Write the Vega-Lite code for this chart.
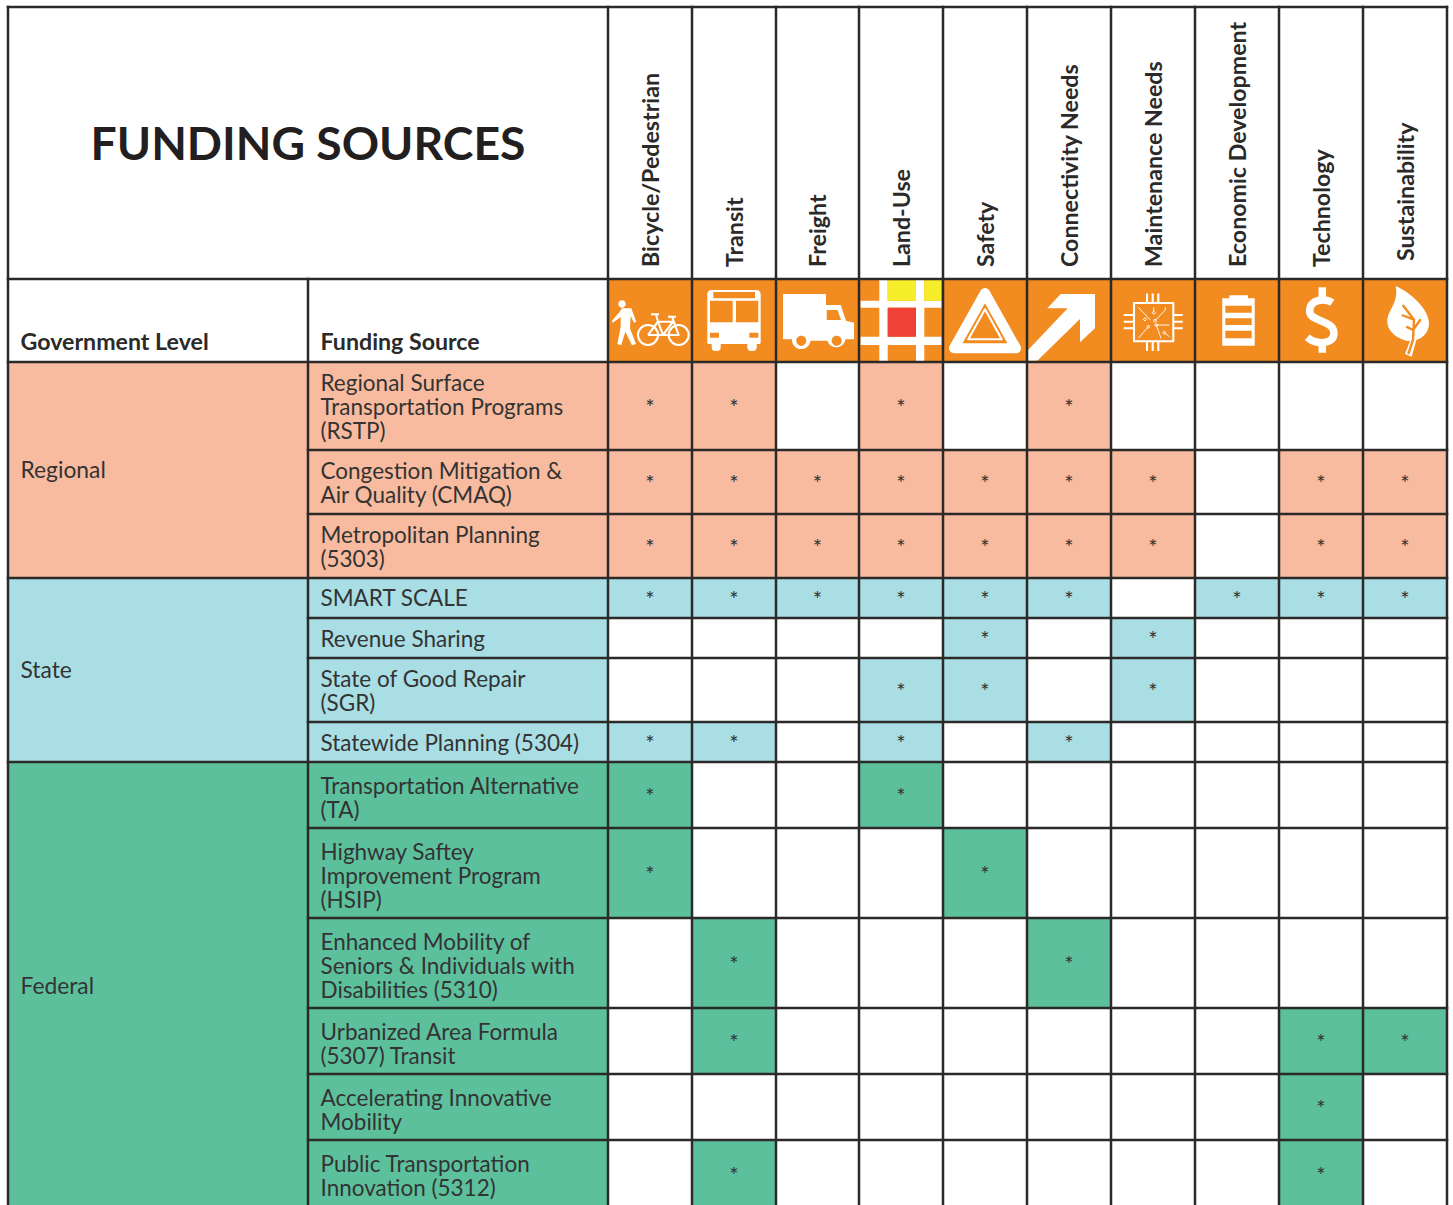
{
"$schema":"https://vega.github.io/schema/vega-lite/v6.json",
"width":1453,"height":1205,"padding":0,"autosize":{"type":"none"},"background":"white",
"config":{"view":{"stroke":null},"text":{"font":"Lato"}},
"datasets":{
"funded":[
{"source":"RSTP","level":"Regional","row":2,"rowEnd":3,"rowMid":2.5,"col":2,"colEnd":3,"colMid":2.5},
{"source":"RSTP","level":"Regional","row":2,"rowEnd":3,"rowMid":2.5,"col":3,"colEnd":4,"colMid":3.5},
{"source":"RSTP","level":"Regional","row":2,"rowEnd":3,"rowMid":2.5,"col":5,"colEnd":6,"colMid":5.5},
{"source":"RSTP","level":"Regional","row":2,"rowEnd":3,"rowMid":2.5,"col":7,"colEnd":8,"colMid":7.5},
{"source":"CMAQ","level":"Regional","row":3,"rowEnd":4,"rowMid":3.5,"col":2,"colEnd":3,"colMid":2.5},
{"source":"CMAQ","level":"Regional","row":3,"rowEnd":4,"rowMid":3.5,"col":3,"colEnd":4,"colMid":3.5},
{"source":"CMAQ","level":"Regional","row":3,"rowEnd":4,"rowMid":3.5,"col":4,"colEnd":5,"colMid":4.5},
{"source":"CMAQ","level":"Regional","row":3,"rowEnd":4,"rowMid":3.5,"col":5,"colEnd":6,"colMid":5.5},
{"source":"CMAQ","level":"Regional","row":3,"rowEnd":4,"rowMid":3.5,"col":6,"colEnd":7,"colMid":6.5},
{"source":"CMAQ","level":"Regional","row":3,"rowEnd":4,"rowMid":3.5,"col":7,"colEnd":8,"colMid":7.5},
{"source":"CMAQ","level":"Regional","row":3,"rowEnd":4,"rowMid":3.5,"col":8,"colEnd":9,"colMid":8.5},
{"source":"CMAQ","level":"Regional","row":3,"rowEnd":4,"rowMid":3.5,"col":10,"colEnd":11,"colMid":10.5},
{"source":"CMAQ","level":"Regional","row":3,"rowEnd":4,"rowMid":3.5,"col":11,"colEnd":12,"colMid":11.5},
{"source":"5303","level":"Regional","row":4,"rowEnd":5,"rowMid":4.5,"col":2,"colEnd":3,"colMid":2.5},
{"source":"5303","level":"Regional","row":4,"rowEnd":5,"rowMid":4.5,"col":3,"colEnd":4,"colMid":3.5},
{"source":"5303","level":"Regional","row":4,"rowEnd":5,"rowMid":4.5,"col":4,"colEnd":5,"colMid":4.5},
{"source":"5303","level":"Regional","row":4,"rowEnd":5,"rowMid":4.5,"col":5,"colEnd":6,"colMid":5.5},
{"source":"5303","level":"Regional","row":4,"rowEnd":5,"rowMid":4.5,"col":6,"colEnd":7,"colMid":6.5},
{"source":"5303","level":"Regional","row":4,"rowEnd":5,"rowMid":4.5,"col":7,"colEnd":8,"colMid":7.5},
{"source":"5303","level":"Regional","row":4,"rowEnd":5,"rowMid":4.5,"col":8,"colEnd":9,"colMid":8.5},
{"source":"5303","level":"Regional","row":4,"rowEnd":5,"rowMid":4.5,"col":10,"colEnd":11,"colMid":10.5},
{"source":"5303","level":"Regional","row":4,"rowEnd":5,"rowMid":4.5,"col":11,"colEnd":12,"colMid":11.5},
{"source":"SMART SCALE","level":"State","row":5,"rowEnd":6,"rowMid":5.5,"col":2,"colEnd":3,"colMid":2.5},
{"source":"SMART SCALE","level":"State","row":5,"rowEnd":6,"rowMid":5.5,"col":3,"colEnd":4,"colMid":3.5},
{"source":"SMART SCALE","level":"State","row":5,"rowEnd":6,"rowMid":5.5,"col":4,"colEnd":5,"colMid":4.5},
{"source":"SMART SCALE","level":"State","row":5,"rowEnd":6,"rowMid":5.5,"col":5,"colEnd":6,"colMid":5.5},
{"source":"SMART SCALE","level":"State","row":5,"rowEnd":6,"rowMid":5.5,"col":6,"colEnd":7,"colMid":6.5},
{"source":"SMART SCALE","level":"State","row":5,"rowEnd":6,"rowMid":5.5,"col":7,"colEnd":8,"colMid":7.5},
{"source":"SMART SCALE","level":"State","row":5,"rowEnd":6,"rowMid":5.5,"col":9,"colEnd":10,"colMid":9.5},
{"source":"SMART SCALE","level":"State","row":5,"rowEnd":6,"rowMid":5.5,"col":10,"colEnd":11,"colMid":10.5},
{"source":"SMART SCALE","level":"State","row":5,"rowEnd":6,"rowMid":5.5,"col":11,"colEnd":12,"colMid":11.5},
{"source":"Revenue Sharing","level":"State","row":6,"rowEnd":7,"rowMid":6.5,"col":6,"colEnd":7,"colMid":6.5},
{"source":"Revenue Sharing","level":"State","row":6,"rowEnd":7,"rowMid":6.5,"col":8,"colEnd":9,"colMid":8.5},
{"source":"SGR","level":"State","row":7,"rowEnd":8,"rowMid":7.5,"col":5,"colEnd":6,"colMid":5.5},
{"source":"SGR","level":"State","row":7,"rowEnd":8,"rowMid":7.5,"col":6,"colEnd":7,"colMid":6.5},
{"source":"SGR","level":"State","row":7,"rowEnd":8,"rowMid":7.5,"col":8,"colEnd":9,"colMid":8.5},
{"source":"5304","level":"State","row":8,"rowEnd":9,"rowMid":8.5,"col":2,"colEnd":3,"colMid":2.5},
{"source":"5304","level":"State","row":8,"rowEnd":9,"rowMid":8.5,"col":3,"colEnd":4,"colMid":3.5},
{"source":"5304","level":"State","row":8,"rowEnd":9,"rowMid":8.5,"col":5,"colEnd":6,"colMid":5.5},
{"source":"5304","level":"State","row":8,"rowEnd":9,"rowMid":8.5,"col":7,"colEnd":8,"colMid":7.5},
{"source":"TA","level":"Federal","row":9,"rowEnd":10,"rowMid":9.5,"col":2,"colEnd":3,"colMid":2.5},
{"source":"TA","level":"Federal","row":9,"rowEnd":10,"rowMid":9.5,"col":5,"colEnd":6,"colMid":5.5},
{"source":"HSIP","level":"Federal","row":10,"rowEnd":11,"rowMid":10.5,"col":2,"colEnd":3,"colMid":2.5},
{"source":"HSIP","level":"Federal","row":10,"rowEnd":11,"rowMid":10.5,"col":6,"colEnd":7,"colMid":6.5},
{"source":"5310","level":"Federal","row":11,"rowEnd":12,"rowMid":11.5,"col":3,"colEnd":4,"colMid":3.5},
{"source":"5310","level":"Federal","row":11,"rowEnd":12,"rowMid":11.5,"col":7,"colEnd":8,"colMid":7.5},
{"source":"5307","level":"Federal","row":12,"rowEnd":13,"rowMid":12.5,"col":3,"colEnd":4,"colMid":3.5},
{"source":"5307","level":"Federal","row":12,"rowEnd":13,"rowMid":12.5,"col":10,"colEnd":11,"colMid":10.5},
{"source":"5307","level":"Federal","row":12,"rowEnd":13,"rowMid":12.5,"col":11,"colEnd":12,"colMid":11.5},
{"source":"AIM","level":"Federal","row":13,"rowEnd":14,"rowMid":13.5,"col":10,"colEnd":11,"colMid":10.5},
{"source":"5312","level":"Federal","row":14,"rowEnd":15,"rowMid":14.47,"col":3,"colEnd":4,"colMid":3.5},
{"source":"5312","level":"Federal","row":14,"rowEnd":15,"rowMid":14.47,"col":10,"colEnd":11,"colMid":10.5}
],
"sources":[
{"name":"Regional Surface\nTransportation Programs\n(RSTP)","level":"Regional","row":2,"rowEnd":3,"labelRow":2.25,"col":1,"colEnd":2},
{"name":"Congestion Mitigation &\nAir Quality (CMAQ)","level":"Regional","row":3,"rowEnd":4,"labelRow":3.344,"col":1,"colEnd":2},
{"name":"Metropolitan Planning\n(5303)","level":"Regional","row":4,"rowEnd":5,"labelRow":4.344,"col":1,"colEnd":2},
{"name":"SMART SCALE","level":"State","row":5,"rowEnd":6,"labelRow":5.525,"col":1,"colEnd":2},
{"name":"Revenue Sharing","level":"State","row":6,"rowEnd":7,"labelRow":6.55,"col":1,"colEnd":2},
{"name":"State of Good Repair\n(SGR)","level":"State","row":7,"rowEnd":8,"labelRow":7.344,"col":1,"colEnd":2},
{"name":"Statewide Planning (5304)","level":"State","row":8,"rowEnd":9,"labelRow":8.55,"col":1,"colEnd":2},
{"name":"Transportation Alternative\n(TA)","level":"Federal","row":9,"rowEnd":10,"labelRow":9.379,"col":1,"colEnd":2},
{"name":"Highway Saftey\nImprovement Program\n(HSIP)","level":"Federal","row":10,"rowEnd":11,"labelRow":10.278,"col":1,"colEnd":2},
{"name":"Enhanced Mobility of\nSeniors & Individuals with\nDisabilities (5310)","level":"Federal","row":11,"rowEnd":12,"labelRow":11.278,"col":1,"colEnd":2},
{"name":"Urbanized Area Formula\n(5307) Transit","level":"Federal","row":12,"rowEnd":13,"labelRow":12.379,"col":1,"colEnd":2},
{"name":"Accelerating Innovative\nMobility","level":"Federal","row":13,"rowEnd":14,"labelRow":13.379,"col":1,"colEnd":2},
{"name":"Public Transportation\nInnovation (5312)","level":"Federal","row":14,"rowEnd":15,"labelRow":14.347,"col":1,"colEnd":2}
],
"levels":[
{"name":"Regional","level":"Regional","row":2,"rowEnd":5,"rowMid":3.33,"col":0,"colEnd":1},
{"name":"State","level":"State","row":5,"rowEnd":9,"rowMid":7.2,"col":0,"colEnd":1},
{"name":"Federal","level":"Federal","row":9,"rowEnd":15,"rowMid":11.77,"col":0,"colEnd":1}
],
"criteria":[
{"name":"Bicycle/Pedestrian","colMid":2.5,"base":1},
{"name":"Transit","colMid":3.5,"base":1},
{"name":"Freight","colMid":4.5,"base":1},
{"name":"Land-Use","colMid":5.5,"base":1},
{"name":"Safety","colMid":6.5,"base":1},
{"name":"Connectivity Needs","colMid":7.5,"base":1},
{"name":"Maintenance Needs","colMid":8.5,"base":1},
{"name":"Economic Development","colMid":9.5,"base":1},
{"name":"Technology","colMid":10.5,"base":1}
],
"vlines":[
{"col":0,"from":0,"to":15},{"col":1,"from":1,"to":15},{"col":2,"from":0,"to":15},{"col":3,"from":0,"to":15},{"col":4,"from":0,"to":15},{"col":5,"from":0,"to":15},{"col":6,"from":0,"to":15},{"col":7,"from":0,"to":15},{"col":8,"from":0,"to":15},{"col":9,"from":0,"to":15},{"col":10,"from":0,"to":15},{"col":11,"from":0,"to":15},{"col":12,"from":0,"to":15}
],
"hlines":[
{"row":0,"from":0,"to":12},{"row":1,"from":0,"to":12},{"row":2,"from":0,"to":12},{"row":3,"from":1,"to":12},{"row":4,"from":1,"to":12},{"row":5,"from":0,"to":12},{"row":6,"from":1,"to":12},{"row":7,"from":1,"to":12},{"row":8,"from":1,"to":12},{"row":9,"from":0,"to":12},{"row":10,"from":1,"to":12},{"row":11,"from":1,"to":12},{"row":12,"from":1,"to":12},{"row":13,"from":1,"to":12},{"row":14,"from":1,"to":12}
],
"icons":[
{"icon":"ped","colMid":2.5,"rowMid":1.5},{"icon":"bike","colMid":2.5,"rowMid":1.5},
{"icon":"bus","colMid":3.5,"rowMid":1.5},
{"icon":"truck","colMid":4.5,"rowMid":1.5},{"icon":"truck_holes","colMid":4.5,"rowMid":1.5},
{"icon":"land_white","colMid":5.5,"rowMid":1.5},{"icon":"land_yellow","colMid":5.5,"rowMid":1.5},{"icon":"land_red","colMid":5.5,"rowMid":1.5},
{"icon":"tri_outer","colMid":6.5,"rowMid":1.5},{"icon":"tri_inner","colMid":6.5,"rowMid":1.5},
{"icon":"arrow","colMid":7.5,"rowMid":1.5},
{"icon":"chip_frame","colMid":8.5,"rowMid":1.5},{"icon":"chip_circuit","colMid":8.5,"rowMid":1.5},
{"icon":"battery","colMid":9.5,"rowMid":1.5},
{"icon":"dollar","colMid":10.5,"rowMid":1.5},
{"icon":"leaf","colMid":11.5,"rowMid":1.5},{"icon":"leaf_veins","colMid":11.5,"rowMid":1.5}
]
},
"layer":[
{"data":{"name":"funded"},"mark":{"type":"rect"},"encoding":{
 "x":{"field":"col","type":"quantitative","axis":null,"scale":{"domain":[0,1,2,3,4,5,6,7,8,9,10,11,12],"range":[8,308,608,692,776,859,943,1027,1111,1195,1279,1363,1447],"nice":false,"zero":false}},
 "x2":{"field":"colEnd"},
 "y":{"field":"row","type":"quantitative","axis":null,"scale":{"domain":[0,1,2,3,4,5,6,7,8,9,10,11,12,13,14,15],"range":[7,279,362,450,514,578,618,658,722,762,828,918,1008,1074,1140,1212],"nice":false,"zero":false}},
 "y2":{"field":"rowEnd"},
 "color":{"field":"level","type":"nominal","legend":null,"scale":{"domain":["Regional","State","Federal"],"range":["#F8BB9F","#A9DEE4","#5DC09D"]}}
}},
{"data":{"name":"sources"},"mark":{"type":"rect"},"encoding":{"x":{"field":"col","type":"quantitative","axis":null},"x2":{"field":"colEnd"},"y":{"field":"row","type":"quantitative","axis":null},"y2":{"field":"rowEnd"},"color":{"field":"level","type":"nominal","legend":null}}},
{"data":{"name":"levels"},"mark":{"type":"rect"},"encoding":{"x":{"field":"col","type":"quantitative","axis":null},"x2":{"field":"colEnd"},"y":{"field":"row","type":"quantitative","axis":null},"y2":{"field":"rowEnd"},"color":{"field":"level","type":"nominal","legend":null}}},
{"data":{"values":[{"col":2,"colEnd":12,"row":1,"rowEnd":2}]},"mark":{"type":"rect","color":"#F28C20"},"encoding":{"x":{"field":"col","type":"quantitative","axis":null},"x2":{"field":"colEnd"},"y":{"field":"row","type":"quantitative","axis":null},"y2":{"field":"rowEnd"}}},
{"layer":[
 {"transform":[{"filter":{"field":"icon","oneOf":["ped","bus","truck","truck_holes","land_white","land_yellow","land_red","arrow","battery","leaf"]}}],"mark":{"type":"point","filled":true,"size":4,"opacity":1,"strokeWidth":0},"encoding":{"fill":{"field":"icon","type":"nominal","legend":null,"scale":{"domain":["ped","bus","truck","truck_holes","land_white","land_yellow","land_red","arrow","battery","leaf"],"range":["#ffffff","#ffffff","#ffffff","#F28C20","#ffffff","#F6EE2B","#EF4136","#ffffff","#ffffff","#ffffff"]}}}},
 {"transform":[{"filter":{"field":"icon","oneOf":["tri_outer"]}}],"mark":{"type":"point","filled":false,"size":4,"opacity":1,"stroke":"white","strokeWidth":10,"strokeJoin":"round"}},
 {"transform":[{"filter":{"field":"icon","oneOf":["dollar"]}}],"mark":{"type":"point","filled":false,"size":4,"opacity":1,"stroke":"white","strokeWidth":7.5}},
 {"transform":[{"filter":{"field":"icon","oneOf":["bike","tri_inner","chip_frame"]}}],"mark":{"type":"point","filled":false,"size":4,"opacity":1,"stroke":"white","strokeWidth":2.1,"strokeJoin":"round"}},
 {"transform":[{"filter":{"field":"icon","oneOf":["chip_circuit"]}}],"mark":{"type":"point","filled":false,"size":4,"opacity":1,"stroke":"white","strokeWidth":0.9}},
 {"transform":[{"filter":{"field":"icon","oneOf":["leaf_veins"]}}],"mark":{"type":"point","filled":false,"size":4,"opacity":1,"stroke":"#F28C20","strokeWidth":2.4}}
],
"data":{"name":"icons"},
"encoding":{
 "x":{"field":"colMid","type":"quantitative","axis":null},
 "y":{"field":"rowMid","type":"quantitative","axis":null},
 "shape":{"field":"icon","type":"nominal","legend":null,"scale":{
  "domain":["ped","bike","bus","truck","truck_holes","land_white","land_yellow","land_red","tri_outer","tri_inner","arrow","chip_frame","chip_circuit","battery","dollar","leaf","leaf_veins"],
  "range":[
  "M-31.7 -16.5A3.7 3.7 0 1 1 -24.3 -16.5A3.7 3.7 0 1 1 -31.7 -16.5ZM-28 -12.2H-18.7L-13.7 1.2L-16 2.2L-19.3 -4.5L-20 7.8L-14 23.5L-18 24.8L-24.7 11.2L-28.7 24.5L-32.7 23.8L-29.3 6.2L-29.3 -3.2L-37.3 2.2L-38 0.2L-30.3 -8.8Z",
  "M-12 14.5A10 10 0 1 1 8 14.5A10 10 0 1 1 -12 14.5ZM18.7 14.5A10 10 0 1 1 38.7 14.5A10 10 0 1 1 18.7 14.5ZM-2 14.5L8 1.2H23L13 14.5H-2M8 1.2L13 14.5H28.7L22 -3.8M18 -3.8H26M8 1.2L6 -6.2M1 -6.2H9",
  "M-22 -30.5H22Q26.7 -30.5 26.7 -26V22Q26.7 23.5 25 23.5H22.7V27Q22.7 30.5 18 30.5Q13.3 30.5 13.3 27V23.5H-13.3V27Q-13.3 30.5 -18 30.5Q-22.3 30.5 -22.3 27V23.5H-25Q-26.7 23.5 -26.7 22V-26Q-26.7 -30.5 -22 -30.5ZM-20.7 -28.5V-22.2H21V-28.5ZM-24 -19.8V1.8H-1.3V-19.8ZM2 -19.8V1.8H24.3V-19.8ZM-24 12.2V17.2H-15V12.2ZM15.3 12.2V17.2H24.3V12.2Z",
  "M-34.5 -26.5H8.5V-15.5H23.2L28.5 0.2L36.5 2.2V18.8H28V18.8A9.3 9.3 0 0 1 9.9 20.2H-7A9.3 9.3 0 0 1 -25.5 20.2V18.8H-34.5Z",
  "M-21.2 20.2A5 5 0 1 1 -11.2 20.2A5 5 0 1 1 -21.2 20.2ZM14.2 20.2A5 5 0 1 1 24.2 20.2A5 5 0 1 1 14.2 20.2ZM9.2 -10.5H20L23.5 -0.5H9.2Z",
  "M-21.7 -40.5H-13.3V-19.8H15V-40.5H23.3V-19.8H40.5V-12.8H23.3V16.2H40.5V24.5H23.3V40.5H15V24.5H-13.3V40.5H-21.7V24.5H-40.5V16.2H-21.7V-12.8H-40.5V-19.8H-21.7ZM-13.3 -12.8V16.2H15V-12.8Z",
  "M-13.3 -40.5H15V-19.8H-13.3ZM23.3 -40.5H40.5V-19.8H23.3Z",
  "M-13.3 -12.8H15V16.2H-13.3Z",
  "M0 -27.5L31 27.8H-31Z",
  "M0 -11.2L16.7 18.8H-16.7Z",
  "M-21.7 -12.2L-8.3 -26.5H26V7.8L11 21.8V-1.5L-31.7 40.2H-41V29.5L-1.3 -12.2Z",
  "M-19 -17.5H20.3V20.8H-19ZM-6 -27V-18M-0.3 -27V-18M5.3 -27V-18M-6 21V30.5M-0.3 21V30.5M5.3 21V30.5M-29.3 -5.5H-20M-29.3 1.2H-20M-29.3 7.8H-20M21 -5.5H29.7M21 1.2H29.7M21 7.8H29.7",
  "M-14.7 -13.2L-2.7 -0.5M0.7 -13.2V-9.3M12.3 -13.2V-10.5L2 0.2M-4.7 6.2L-14.7 17.8M3.3 4.5H16.3M3.3 4.5L8 17.8M11.3 12.2L16.3 16.2M-0.7 -7.8A1.4 1.4 0 1 1 2.1 -7.8A1.4 1.4 0 1 1 -0.7 -7.8ZM-9.4 -1.2A1.4 1.4 0 1 1 -6.6 -1.2A1.4 1.4 0 1 1 -9.4 -1.2ZM-6.1 6.2A1.4 1.4 0 1 1 -3.3 6.2A1.4 1.4 0 1 1 -6.1 6.2ZM0.6 0.2A1.4 1.4 0 1 1 3.4 0.2A1.4 1.4 0 1 1 0.6 0.2ZM1.9 4.5A1.4 1.4 0 1 1 4.7 4.5A1.4 1.4 0 1 1 1.9 4.5ZM9.9 12.2A1.4 1.4 0 1 1 12.7 12.2A1.4 1.4 0 1 1 9.9 12.2Z",
  "M-7.7 -25.2H11V-22.2H17.7V25.2H-14.7V-22.2H-7.7ZM-11.7 -14.8V-7.8H14.7V-14.8ZM-11.7 -2.2V4.5H14.7V-2.2ZM-11.7 10.2V17.8H14.7V10.2Z",
  "M11.3 -17.8C4.7 -22.2 -12 -22.2 -11.3 -8.8C-10.7 1.2 13 -0.5 13 12.8C13 24.5 -5.3 24.5 -13.7 16.8M1.3 -33.2V-20M1.3 23V32.2",
  "M-9.3 -34.5C7.3 -27.2 24 -10.5 24 2.8C24 14.5 14 18.8 11.3 19.5L6.7 36.2L0 33.5L5 20.5C0.7 21.2 -17.7 14.5 -17.7 1.2C-17.7 -10.5 -6 -17.2 -9.3 -34.5Z",
  "M-2.3 -15.5L9 -0.8L8 19.5L3.3 33.5M-3.3 -5.5L9 -0.8M15.7 -1.2L8 9.5M1.3 6.2L8 9.5"
  ]}}
}},
{"data":{"name":"vlines"},"mark":{"type":"rule","color":"#2B2A29","strokeWidth":2.5,"strokeCap":"square"},"encoding":{"x":{"field":"col","type":"quantitative","axis":null},"y":{"field":"from","type":"quantitative","axis":null},"y2":{"field":"to"}}},
{"data":{"name":"hlines"},"mark":{"type":"rule","color":"#2B2A29","strokeWidth":2.5,"strokeCap":"square"},"encoding":{"y":{"field":"row","type":"quantitative","axis":null},"x":{"field":"from","type":"quantitative","axis":null},"x2":{"field":"to"}}},
{"data":{"name":"funded"},"mark":{"type":"text","text":"*","fontSize":22,"color":"#333333","dy":2},"encoding":{"x":{"field":"colMid","type":"quantitative","axis":null},"y":{"field":"rowMid","type":"quantitative","axis":null}}},
{"data":{"name":"sources"},"mark":{"type":"text","align":"left","baseline":"middle","fontSize":22.5,"lineHeight":24,"lineBreak":"\n","dx":12.5,"color":"#333333"},"encoding":{"x":{"field":"col","type":"quantitative","axis":null},"y":{"field":"labelRow","type":"quantitative","axis":null},"text":{"field":"name"}}},
{"data":{"name":"levels"},"mark":{"type":"text","align":"left","baseline":"middle","fontSize":22.8,"dx":12.5,"color":"#333333"},"encoding":{"x":{"field":"col","type":"quantitative","axis":null},"y":{"field":"rowMid","type":"quantitative","axis":null},"text":{"field":"name"}}},
{"data":{"values":[{"name":"Government Level","col":0,"rowMid":1.5},{"name":"Funding Source","col":1,"rowMid":1.5}]},"mark":{"type":"text","align":"left","baseline":"middle","fontSize":23.2,"fontWeight":"bold","dx":12.5,"dy":22,"color":"#2B2A29"},"encoding":{"x":{"field":"col","type":"quantitative","axis":null},"y":{"field":"rowMid","type":"quantitative","axis":null},"text":{"field":"name"}}},
{"data":{"values":[{"name":"FUNDING SOURCES","col":1,"rowMid":0.5}]},"mark":{"type":"text","align":"center","baseline":"middle","fontSize":46.3,"fontWeight":"bold","dy":3,"color":"#231F20"},"encoding":{"x":{"field":"col","type":"quantitative","axis":null},"y":{"field":"rowMid","type":"quantitative","axis":null},"text":{"field":"name"}}},
{"data":{"name":"criteria"},"mark":{"type":"text","align":"left","baseline":"middle","angle":270,"fontSize":23.2,"fontWeight":"bold","dx":12,"dy":1.5,"color":"#2B2A29"},"encoding":{"x":{"field":"colMid","type":"quantitative","axis":null},"y":{"field":"base","type":"quantitative","axis":null},"text":{"field":"name"}}},
{"data":{"values":[{"name":"Sustainability","colMid":11.5,"base":1}]},"mark":{"type":"text","align":"left","baseline":"middle","angle":270,"fontSize":23.2,"fontWeight":"bold","dx":18,"dy":1.5,"color":"#2B2A29"},"encoding":{"x":{"field":"colMid","type":"quantitative","axis":null},"y":{"field":"base","type":"quantitative","axis":null},"text":{"field":"name"}}}
]
}
